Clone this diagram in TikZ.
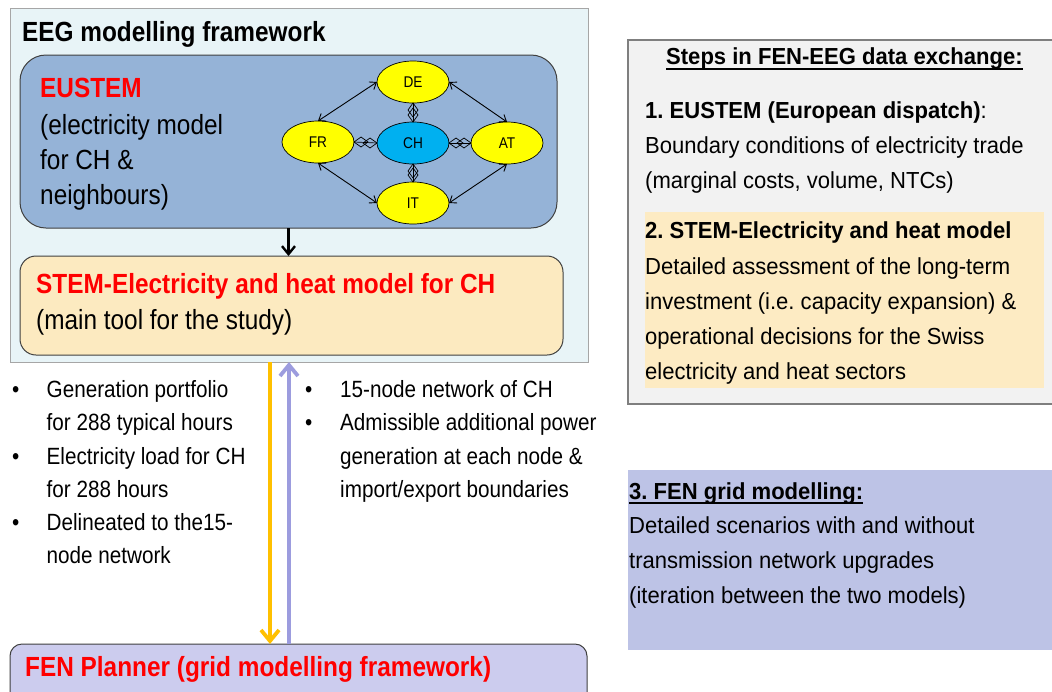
\documentclass[tikz,border=0pt]{standalone}
\usepackage{fontspec}
\setmainfont[FakeStretch=0.88]{Liberation Sans}
\newfontfamily\rfont[FakeStretch=0.95]{Liberation Sans}
\usetikzlibrary{shapes.geometric,arrows.meta}
\frenchspacing
\definecolor{eegbg}{HTML}{E8F4F7}
\definecolor{eegbd}{HTML}{A6A6A6}
\definecolor{eusbg}{HTML}{95B3D7}
\definecolor{boxbd}{HTML}{404040}
\definecolor{stembg}{HTML}{FCEAC0}
\definecolor{fenbg}{HTML}{CCCCEE}
\definecolor{stepbg}{HTML}{F2F2F2}
\definecolor{stepbd}{HTML}{7F7F7F}
\definecolor{hlbg}{HTML}{FDEBC3}
\definecolor{fenstep}{HTML}{BDC3E6}
\definecolor{arrorange}{HTML}{FFC000}
\definecolor{arrpurple}{HTML}{9C9CDE}
\definecolor{chblue}{HTML}{00B0F0}
\definecolor{ctyellow}{HTML}{FFFF00}
\definecolor{redtxt}{HTML}{FF0000}
\begin{document}
\frenchspacing
\begin{tikzpicture}[x=1pt,y=-1pt,
  panel/.style={anchor=north west,inner sep=0pt,outer sep=0pt},
  big/.style={anchor=base west,inner sep=0pt,font=\frenchspacing\fontsize{27.7}{31}\selectfont},
  bigred/.style={anchor=base west,inner sep=0pt,text=redtxt,font=\frenchspacing\fontsize{27.7}{31}\selectfont\bfseries},
  bigbold/.style={anchor=base west,inner sep=0pt,font=\frenchspacing\fontsize{27.7}{31}\selectfont\bfseries},
  bul/.style={anchor=base west,inner sep=0pt,font=\frenchspacing\fontsize{23.5}{27}\selectfont},
  rt/.style={anchor=base west,inner sep=0pt,font=\frenchspacing\rfont\fontsize{23.2}{27}\selectfont},
  rtb/.style={anchor=base west,inner sep=0pt,font=\frenchspacing\rfont\fontsize{23.2}{27}\selectfont\bfseries},
  cty/.style={ellipse,draw=black,line width=0.7pt,fill=ctyellow,minimum width=72pt,minimum height=42pt,inner sep=0pt,outer sep=0pt,font=\fontsize{15.5}{17}\selectfont},
  netarr/.style={line width=0.9pt,{Straight Barb[length=6pt,width=9pt]}-{Straight Barb[length=6pt,width=9pt]}},
  dia/.style={line width=0.7pt},
  blackarr/.style={line width=2.4pt,-{Straight Barb[length=8pt,width=13pt]}},
  orangearr/.style={draw=arrorange,line width=3.8pt,-{Straight Barb[length=11pt,width=18pt]}},
  purplearr/.style={draw=arrpurple,line width=3.8pt,-{Straight Barb[length=11pt,width=18pt]}},
  uline/.style={line width=1.2pt}
]
\clip (0,0) rectangle (1052,691);
\fill[white] (0,0) rectangle (1052,691);

% EEG framework
\node[panel,draw=eegbd,line width=1pt,fill=eegbg,minimum width=578pt,minimum height=354pt] (eeg) at (10,8) {};
\node[bigbold] (eegt) at (22,41) {EEG modelling framework};

% EUSTEM box
\node[panel,draw=boxbd,line width=1pt,fill=eusbg,rounded corners=26pt,minimum width=537pt,minimum height=173pt] (eus) at (20,55) {};
\node[bigred] (eust) at (40,97) {EUSTEM};
\node[big] (eus1) at (40,134) {(electricity model};
\node[big] (eus2) at (40,169) {for CH \&};
\node[big] (eus3) at (40,204.5) {neighbours)};

% network
\node[cty] (de) at (413,82) {DE};
\node[cty] (fr) at (318,142) {FR};
\node[cty,fill=chblue] (ch) at (413,143) {CH};
\node[cty] (at) at (507,143) {AT};
\node[cty] (it) at (413,203) {IT};
\draw[netarr] (fr.north) -- (de.west);
\draw[netarr] (de.east) -- (at.north);
\draw[netarr] (fr.south) -- (it.west);
\draw[netarr] (it.east) -- (at.south);
% diamond-ended links from CH
\draw[dia] (ch.north) -- (de.south);
\draw[dia] (de.south) -- ++(5,7) -- ++(-5,7) -- ++(-5,-7) -- cycle;
\draw[dia] (ch.north) -- ++(5,-7) -- ++(-5,-7) -- ++(-5,7) -- cycle;
\draw[dia] (ch.south) -- (it.north);
\draw[dia] (ch.south) -- ++(5,7) -- ++(-5,7) -- ++(-5,-7) -- cycle;
\draw[dia] (it.north) -- ++(5,-7) -- ++(-5,-7) -- ++(-5,7) -- cycle;
\draw[dia] (ch.west) -- (fr.east);
\draw[dia] (fr.east) -- ++(7,-5) -- ++(7,5) -- ++(-7,5) -- cycle;
\draw[dia] (ch.west) -- ++(-7,-5) -- ++(-7,5) -- ++(7,5) -- cycle;
\draw[dia] (ch.east) -- (at.west);
\draw[dia] (ch.east) -- ++(7,-5) -- ++(7,5) -- ++(-7,5) -- cycle;
\draw[dia] (at.west) -- ++(-7,-5) -- ++(-7,5) -- ++(7,5) -- cycle;

% STEM box
\node[panel,draw=boxbd,line width=1pt,fill=stembg,rounded corners=16pt,minimum width=543pt,minimum height=99pt] (stem) at (20,256) {};
\node[bigred] (stemt) at (36,293) {STEM-Electricity and heat model for CH};
\node[big] (stem1) at (36,329) {(main tool for the study)};
\draw[blackarr] (eus.south) -- (eus.south |- stem.north);

% FEN box
\node[panel,draw=boxbd,line width=1pt,fill=fenbg,rounded corners=12pt,minimum width=577pt,minimum height=70pt] (fen) at (10,644) {};
\node[bigred] (fent) at (25,676) {FEN Planner (grid modelling framework)};

% vertical arrows
\coordinate (xo) at (270,0);
\coordinate (xp) at (289,0);
\draw[orangearr] (eeg.south -| xo) -- (fen.north -| xo);
\draw[purplearr] (fen.north -| xp) -- (eeg.south -| xp);

% left bullets
\node[bul] (lb1) at (12,397) {\textbullet};
\node[bul] (lt1) at (46.5,397) {Generation portfolio};
\node[bul] (lt2) at (46.5,430.5) {for 288 typical hours};
\node[bul] (lb2) at (12,464) {\textbullet};
\node[bul] (lt3) at (46.5,464) {Electricity load for CH};
\node[bul] (lt4) at (46.5,497) {for 288 hours};
\node[bul] (lb3) at (12,530) {\textbullet};
\node[bul] (lt5) at (46.5,530) {Delineated to the15-};
\node[bul] (lt6) at (46.5,563) {node network};

% middle bullets
\node[bul] (mb1) at (305,397) {\textbullet};
\node[bul] (mt1) at (340,397) {15-node network of CH};
\node[bul] (mb2) at (305,430.5) {\textbullet};
\node[bul] (mt2) at (340,430.5) {Admissible additional power};
\node[bul] (mt3) at (340,464) {generation at each node \&};
\node[bul] (mt4) at (340,497) {import/export boundaries};

% steps box
\node[panel,draw=stepbd,line width=1.5pt,fill=stepbg,minimum width=440pt,minimum height=364pt] (steps) at (628,40) {};
\node[rtb] (st0) at (666,64) {Steps in FEN-EEG data exchange:};
\draw[uline] ([yshift=-5pt]st0.base west) -- ([yshift=-5pt]st0.base east);
\node[rt] (st1) at (645,118.5) {{\bfseries 1. EUSTEM (European dispatch)}:};
\node[rt] (st2) at (645,153.5) {Boundary conditions of electricity trade};
\node[rt] (st3) at (645,188.5) {(marginal costs, volume, NTCs)};
\node[panel,fill=hlbg,minimum width=399pt,minimum height=176pt] (hl) at (645,212) {};
\node[rtb] (st4) at (645,238.5) {2. STEM-Electricity and heat model};
\node[rt] (st5) at (645,274.5) {Detailed assessment of the long-term};
\node[rt] (st6) at (645,309.5) {investment (i.e. capacity expansion) \&};
\node[rt] (st7) at (645,344.5) {operational decisions for the Swiss};
\node[rt] (st8) at (645,379.5) {electricity and heat sectors};

% FEN step box
\node[panel,fill=fenstep,minimum width=440pt,minimum height=180pt] (fens) at (628,470) {};
\node[rtb] (fs0) at (629,499) {3. FEN grid modelling:};
\draw[uline] ([yshift=-4pt]fs0.base west) -- ([yshift=-4pt]fs0.base east);
\node[rt] (fs1) at (629,533.5) {Detailed scenarios with and without};
\node[rt] (fs2) at (629,568) {transmission network upgrades};
\node[rt] (fs3) at (629,603) {(iteration between the two models)};
\end{tikzpicture}
\end{document}
